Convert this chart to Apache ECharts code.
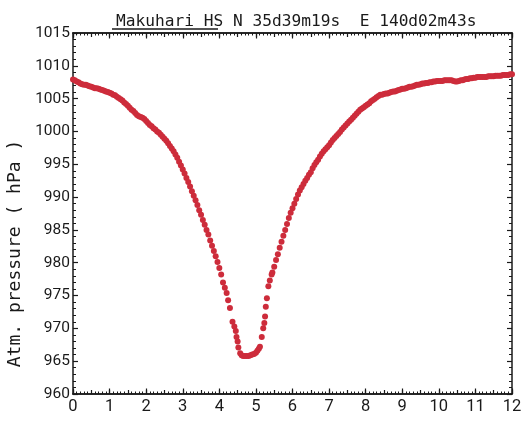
<!DOCTYPE html>
<html>
<head>
<meta charset="utf-8">
<script src="https://cdn.jsdelivr.net/npm/echarts@6/dist/echarts.min.js"></script>
<style>
html, body { margin: 0; padding: 0; background: #ffffff; }
#main { width: 525px; height: 422px; }
</style>
</head>
<body>
<div id="main"></div>
<script>
// elapsed time (hours) and atmospheric pressure (hPa)
var hours = [
  0.00, 0.05, 0.10, 0.15, 0.20, 0.25, 0.30, 0.35, 0.40, 0.45,
  0.50, 0.55, 0.60, 0.65, 0.70, 0.75, 0.80, 0.85, 0.90, 0.95,
  1.00, 1.05, 1.10, 1.15, 1.20, 1.25, 1.30, 1.35, 1.40, 1.45,
  1.50, 1.55, 1.60, 1.65, 1.70, 1.75, 1.80, 1.85, 1.90, 1.95,
  2.00, 2.05, 2.10, 2.15, 2.20, 2.25, 2.30, 2.35, 2.40, 2.45,
  2.50, 2.55, 2.60, 2.65, 2.70, 2.75, 2.80, 2.85, 2.90, 2.95,
  3.00, 3.05, 3.10, 3.15, 3.20, 3.25, 3.30, 3.35, 3.40, 3.45,
  3.50, 3.55, 3.60, 3.65, 3.70, 3.75, 3.80, 3.85, 3.90, 3.95,
  4.00, 4.05, 4.10, 4.15, 4.20,
  4.24, 4.29, 4.36, 4.41, 4.45, 4.47, 4.50, 4.52, 4.57, 4.61,
  4.65, 4.70, 4.75, 4.80, 4.85, 4.90, 4.95, 5.00, 5.04, 5.08,
  5.11, 5.16, 5.20, 5.23, 5.25, 5.27, 5.30, 5.34, 5.38, 5.43,
  5.45, 5.50, 5.55, 5.60, 5.65, 5.70, 5.75, 5.80, 5.85, 5.90,
  5.95, 6.00, 6.05, 6.10, 6.15, 6.20, 6.25, 6.30, 6.35, 6.40,
  6.45, 6.50, 6.55, 6.60, 6.65,
  6.70, 6.75, 6.80, 6.85, 6.90, 6.95, 7.00, 7.05, 7.10, 7.15,
  7.20, 7.25, 7.30, 7.35, 7.40, 7.45, 7.50, 7.55, 7.60, 7.65,
  7.70, 7.75, 7.80, 7.85, 7.90, 7.95, 8.00, 8.05, 8.10, 8.15,
  8.20, 8.25, 8.30, 8.35, 8.40, 8.45, 8.50, 8.55, 8.60, 8.65,
  8.70, 8.75, 8.80, 8.85, 8.90, 8.95, 9.00, 9.05, 9.10, 9.15,
  9.20, 9.25, 9.30, 9.35, 9.40, 9.45, 9.50, 9.55, 9.60, 9.65,
  9.70, 9.75, 9.80, 9.85, 9.90, 9.95, 10.00, 10.05, 10.10, 10.15,
  10.20, 10.25, 10.30, 10.35, 10.40, 10.45, 10.50, 10.55, 10.60, 10.65,
  10.70, 10.75, 10.80, 10.85, 10.90, 10.95, 11.00, 11.05, 11.10, 11.15,
  11.20, 11.25, 11.30, 11.35, 11.40, 11.45, 11.50, 11.55, 11.60, 11.65,
  11.70, 11.75, 11.80, 11.85, 11.90, 11.95, 12.00
];
var pressure = [
  1007.9, 1007.8, 1007.6, 1007.5, 1007.3, 1007.2, 1007.1, 1007.1, 1007.0, 1006.9,
  1006.8, 1006.7, 1006.6, 1006.6, 1006.5, 1006.4, 1006.3, 1006.2, 1006.1, 1006.0,
  1005.9, 1005.8, 1005.6, 1005.5, 1005.3, 1005.1, 1004.9, 1004.7, 1004.4, 1004.2,
  1003.9, 1003.6, 1003.3, 1003.1, 1002.8, 1002.5, 1002.3, 1002.2, 1002.1, 1001.9,
  1001.6, 1001.3, 1001.0, 1000.8, 1000.5, 1000.3, 1000.0, 999.8, 999.5, 999.2,
  998.9, 998.6, 998.2, 997.8, 997.4, 997.0, 996.5, 996.0, 995.4, 994.8,
  994.2, 993.6, 992.9, 992.3, 991.6, 990.9, 990.2, 989.5, 988.8, 988.0,
  987.3, 986.5, 985.8, 985.0, 984.3, 983.4, 982.6, 981.8, 981.0, 980.1,
  979.2, 978.2, 977.0, 976.2, 975.4,
  974.3, 973.1, 971.0, 970.3, 969.6, 968.7, 968.0, 967.1, 966.2, 965.9,
  965.8, 965.8, 965.8, 965.8, 965.9, 966.0, 966.1, 966.3, 966.6, 966.9,
  967.2, 968.7, 970.0, 970.8, 971.8, 973.3, 974.6, 976.4, 977.3, 978.2,
  978.5, 979.4, 980.4, 981.3, 982.3, 983.2, 984.1, 985.0, 985.9, 986.8,
  987.6, 988.3, 989.0, 989.7, 990.4, 991.0, 991.5, 992.0, 992.5, 992.9,
  993.4, 993.8, 994.4, 994.9, 995.3,
  995.7, 996.2, 996.6, 997.0, 997.3, 997.6, 997.9, 998.3, 998.7, 999.0,
  999.3, 999.6, 999.9, 1000.3, 1000.6, 1000.9, 1001.2, 1001.5, 1001.8, 1002.1,
  1002.4, 1002.7, 1003.0, 1003.3, 1003.5, 1003.7, 1003.9, 1004.1, 1004.3, 1004.6,
  1004.8, 1005.0, 1005.2, 1005.4, 1005.6, 1005.6, 1005.7, 1005.8, 1005.8, 1005.9,
  1006.0, 1006.1, 1006.1, 1006.2, 1006.3, 1006.4, 1006.5, 1006.5, 1006.6, 1006.7,
  1006.8, 1006.8, 1006.9, 1007.0, 1007.1, 1007.1, 1007.2, 1007.3, 1007.3, 1007.4,
  1007.4, 1007.5, 1007.5, 1007.6, 1007.6, 1007.7, 1007.7, 1007.7, 1007.7, 1007.8,
  1007.8, 1007.8, 1007.8, 1007.8, 1007.7, 1007.6, 1007.6, 1007.7, 1007.8, 1007.8,
  1007.9, 1008.0, 1008.0, 1008.1, 1008.1, 1008.2, 1008.2, 1008.3, 1008.3, 1008.3,
  1008.3, 1008.3, 1008.3, 1008.4, 1008.4, 1008.4, 1008.4, 1008.5, 1008.5, 1008.5,
  1008.5, 1008.6, 1008.6, 1008.6, 1008.6, 1008.7, 1008.7
];
var titleStation = 'Makuhari HS';
var titleCoords = ' N 35d39m19s  E 140d02m43s';
var yName = 'Atm. pressure ( hPa )';

var points = hours.map(function (h, i) { return [h, pressure[i]]; });

var mono = '"DejaVu Sans Mono", "Liberation Mono", monospace';
var labelFont = 'Roboto, "DejaVu Sans", sans-serif';
var ink = '#1a1a1a';

function plain(v) { return String(v); }

function xAx(pos, step, len, labels, minor) {
  return {
    type: 'value', position: pos, min: 0, max: 12, interval: step,
    axisLine: { show: true, onZero: false, lineStyle: { color: ink, width: 1.5 } },
    axisTick: { show: true, inside: true, length: len, lineStyle: { color: ink, width: 1.2 } },
    minorTick: { show: minor, splitNumber: 10, length: 2.5, lineStyle: { color: ink, width: 1 } },
    axisLabel: { show: labels, margin: 4, color: ink, fontFamily: labelFont, fontSize: 16.5, formatter: plain },
    splitLine: { show: false }
  };
}
function yAx(pos, labels) {
  return {
    type: 'value', position: pos, min: 960, max: 1015, interval: 5,
    axisLine: { show: true, onZero: false, lineStyle: { color: ink, width: 1.5 } },
    axisTick: { show: true, inside: true, length: 5, lineStyle: { color: ink, width: 1.2 } },
    minorTick: { show: true, splitNumber: 5, length: 3, lineStyle: { color: ink, width: 1 } },
    axisLabel: { show: labels, margin: 3, color: ink, fontFamily: labelFont, fontSize: 15.5, formatter: plain },
    splitLine: { show: false }
  };
}

var myChart = echarts.init(document.getElementById('main'));
var yLeft = yAx('left', true);
yLeft.name = yName;
yLeft.nameLocation = 'middle';
yLeft.nameGap = 46;
yLeft.nameTextStyle = { color: ink, fontFamily: mono, fontSize: 18, padding: [0, 80, 0, 0] };

var option = {
  animation: false,
  backgroundColor: '#ffffff',
  title: {
    text: '{u|' + titleStation + '}' + titleCoords,
    left: 111, top: 9,
    textStyle: {
      color: ink, fontFamily: mono, fontSize: 16.2, fontWeight: 'normal',
      rich: { u: { color: ink, fontFamily: mono, fontSize: 16.2 } }
    }
  },
  graphic: [{
    type: 'line', shape: { x1: 112, y1: 29, x2: 218, y2: 29 },
    style: { stroke: ink, lineWidth: 1.3 }
  }],
  grid: { left: 73, right: 13, top: 33, bottom: 28, containLabel: false, outerBoundsMode: 'none' },
  xAxis: [
    xAx('bottom', 1, 5.5, true, true),
    xAx('bottom', 0.5, 4, false, false),
    xAx('top', 1, 5.5, false, true),
    xAx('top', 0.5, 4, false, false)
  ],
  yAxis: [yLeft, yAx('right', false)],
  series: [{
    type: 'scatter',
    data: points,
    symbol: 'circle',
    symbolSize: 6,
    itemStyle: { color: '#cd2c3b', opacity: 1 },
    silent: true
  }]
};
myChart.setOption(option);
</script>
</body>
</html>
